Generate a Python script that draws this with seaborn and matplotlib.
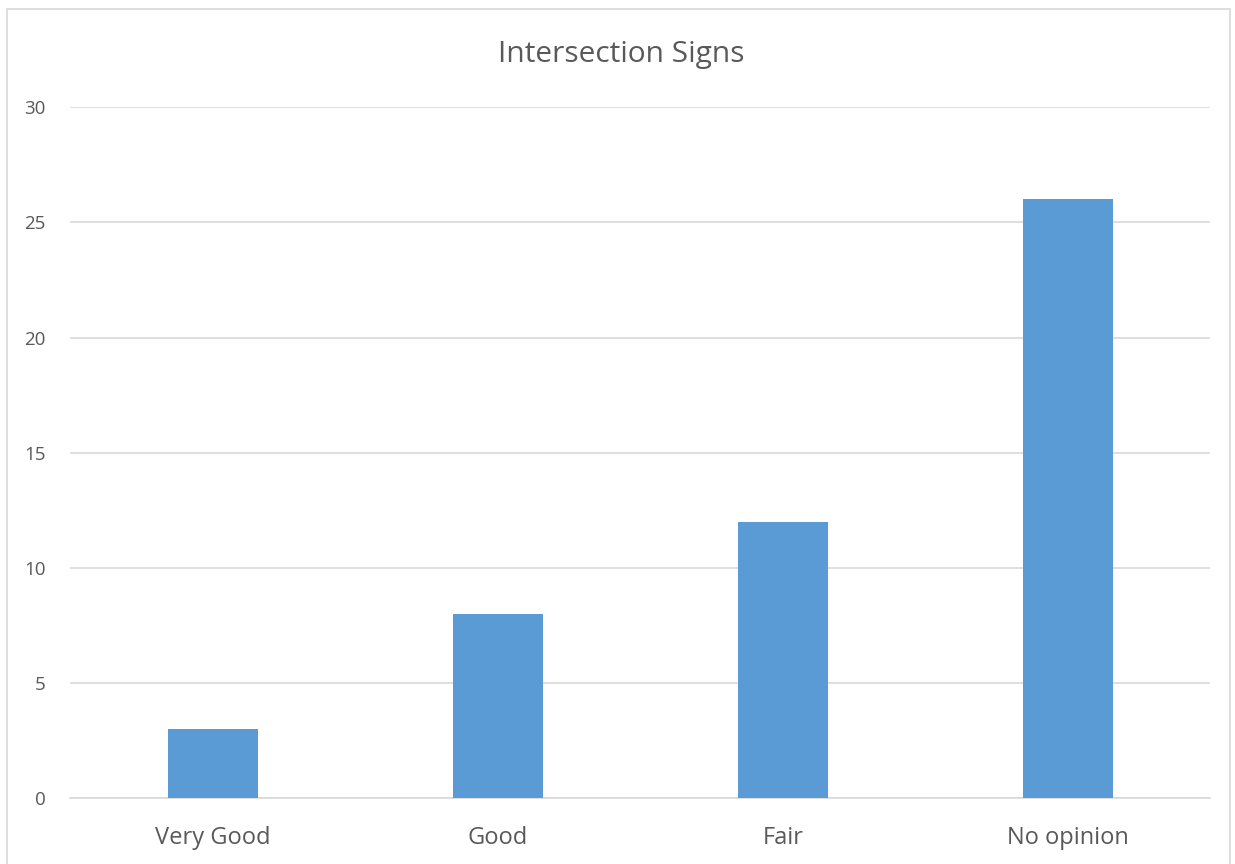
import pandas as pd
import matplotlib.pyplot as plt
import seaborn as sns
from matplotlib.patches import Rectangle

categories = ['Very Good', 'Good', 'Fair', 'No opinion']
counts = [3, 8, 12, 26]
y_ticks = [0, 5, 10, 15, 20, 25, 30]

df = pd.DataFrame({'Rating': categories, 'Count': counts})

sns.set_style('white')
plt.rcParams['font.family'] = ['Open Sans', 'DejaVu Sans']

fig = plt.figure(figsize=(12.35, 8.64), dpi=100)
ax = fig.add_axes([0.057, 0.076, 0.923, 0.800])

sns.barplot(data=df, x='Rating', y='Count', color='#5B9BD5', saturation=1,
            width=0.315, linewidth=0, ax=ax, zorder=3)

ax.set_ylim(0, 30)
ax.set_yticks(y_ticks)
ax.set_xlim(-0.5, 3.5)
ax.yaxis.grid(True, color='#D9D9D9', linewidth=1.2, zorder=0)
ax.set_axisbelow(True)
for side in ['top', 'right', 'left']:
    ax.spines[side].set_visible(False)
ax.spines['bottom'].set_color('#D9D9D9')
ax.spines['bottom'].set_linewidth(1.2)
ax.tick_params(axis='both', length=0, colors='#595959')
ax.tick_params(axis='x', labelsize=17, pad=20)
ax.tick_params(axis='y', labelsize=13.5, pad=18)
ax.set_xlabel('')
ax.set_ylabel('')

fig.text(0.503, 0.937, 'Intersection Signs', ha='center', va='center',
         fontsize=21.5, color='#595959')

fig.patches.append(Rectangle((0.006, -0.01), 0.99, 1.0, transform=fig.transFigure,
                             fill=False, edgecolor='#D9D9D9', linewidth=1.2))

fig.savefig('out.png', dpi=100)
